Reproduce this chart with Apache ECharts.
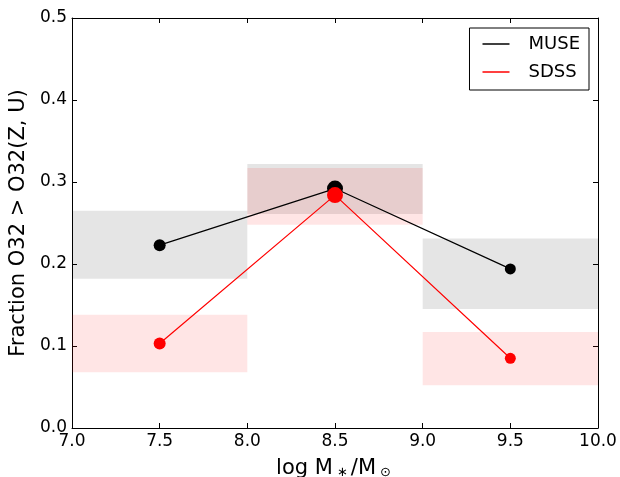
<!DOCTYPE html>
<html>
<head>
<meta charset="utf-8">
<script src="https://cdn.jsdelivr.net/npm/echarts@6/dist/echarts.min.js"></script>
<style>
  html, body { margin: 0; padding: 0; background: #fff; }
  #chart { width: 620px; height: 477px; }
</style>
</head>
<body>
<div id="chart"></div>
<script>
// mass bins (log M*/Msun)
const binLo = [7.0, 8.0, 9.0];
const binHi = [8.0, 9.0, 10.0];
const binMid = [7.5, 8.5, 9.5];

// fraction O32 > O32(Z,U)
const museFrac = [0.223, 0.292, 0.194];
const museLo = [0.182, 0.261, 0.145];
const museHi = [0.265, 0.322, 0.231];

const sdssFrac = [0.103, 0.284, 0.085];
const sdssLo = [0.068, 0.248, 0.052];
const sdssHi = [0.138, 0.317, 0.117];

const xTicks = [7.0, 7.5, 8.0, 8.5, 9.0, 9.5, 10.0];
const yTicks = [0.0, 0.1, 0.2, 0.3, 0.4, 0.5];

// marker diameters, px
const museSize = [12, 16, 11];
const sdssSize = [12, 16, 11];

const font = 'DejaVu Sans';

function bandSeries(name, lo, hi, color) {
    return {
        name: name + ' band',
        type: 'custom',
        silent: true,
        z: 1,
        data: binLo.map((b, i) => [b, binHi[i], lo[i], hi[i]]),
        renderItem: function (params, api) {
            const p0 = api.coord([api.value(0), api.value(3)]);
            const p1 = api.coord([api.value(1), api.value(2)]);
            return {
                type: 'rect',
                shape: { x: p0[0], y: p0[1], width: p1[0] - p0[0], height: p1[1] - p0[1] },
                style: { fill: color }
            };
        }
    };
}

const tickStyle = { show: true, inside: true, length: 5, lineStyle: { color: '#000', width: 1 } };

const option = {
    animation: false,
    backgroundColor: '#fff',
    textStyle: { fontFamily: font },
    grid: { left: 72, right: 22, top: 18, bottom: 49, outerBoundsMode: 'none', containLabel: false },
    legend: {
        orient: 'vertical',
        right: 31,
        top: 28,
        data: ['MUSE', 'SDSS'],
        icon: 'rect',
        itemWidth: 27,
        itemHeight: 1.5,
        itemGap: 8,
        padding: [6, 9, 8, 13],
        borderColor: '#000',
        borderWidth: 1,
        borderRadius: 0,
        textStyle: { fontFamily: font, fontSize: 18, color: '#000', lineHeight: 20, padding: [0, 0, 0, 14] }
    },
    xAxis: [
        {
            type: 'value',
            min: 7, max: 10, interval: 0.5,
            name: '{a|log M}{s|∗}{a|/M}{s|⊙}',
            nameLocation: 'middle',
            nameGap: 25,
            nameTextStyle: {
                rich: {
                    a: { fontFamily: font, fontSize: 21, color: '#000', verticalAlign: 'bottom', lineHeight: 26 },
                    s: { fontFamily: font, fontSize: 13, color: '#000', verticalAlign: 'bottom', lineHeight: 19, padding: [0, 3, 0, 4] }
                }
            },
            axisLine: { show: true, onZero: false, lineStyle: { color: '#000', width: 1 } },
            axisTick: tickStyle,
            splitLine: { show: false },
            axisLabel: {
                fontFamily: font, fontSize: 17, color: '#000', margin: 5,
                showMinLabel: true, showMaxLabel: true,
                formatter: v => v.toFixed(1)
            }
        },
        {
            type: 'value',
            position: 'top',
            min: 7, max: 10, interval: 0.5,
            axisLine: { show: true, onZero: false, lineStyle: { color: '#000', width: 1 } },
            axisTick: tickStyle,
            splitLine: { show: false },
            axisLabel: { show: false }
        }
    ],
    yAxis: [
        {
            type: 'value',
            min: 0, max: 0.5, interval: 0.1,
            name: 'Fraction O32 > O32(Z, U)',
            nameLocation: 'middle',
            nameGap: 38,
            nameTextStyle: { fontFamily: font, fontSize: 21, color: '#000' },
            axisLine: { show: true, onZero: false, lineStyle: { color: '#000', width: 1 } },
            axisTick: tickStyle,
            splitLine: { show: false },
            axisLabel: {
                fontFamily: font, fontSize: 17, color: '#000', margin: 5,
                showMinLabel: true, showMaxLabel: true,
                formatter: v => v.toFixed(1)
            }
        },
        {
            type: 'value',
            position: 'right',
            min: 0, max: 0.5, interval: 0.1,
            axisLine: { show: true, onZero: false, lineStyle: { color: '#000', width: 1 } },
            axisTick: tickStyle,
            splitLine: { show: false },
            axisLabel: { show: false }
        }
    ],
    series: [
        bandSeries('MUSE', museLo, museHi, 'rgba(0,0,0,0.1)'),
        bandSeries('SDSS', sdssLo, sdssHi, 'rgba(255,0,0,0.1)'),
        {
            name: 'MUSE',
            type: 'line',
            z: 3,
            data: binMid.map((x, i) => ({ value: [x, museFrac[i]], symbolSize: museSize[i] })),
            symbol: 'circle',
            color: '#000',
            lineStyle: { color: '#000', width: 1.2 },
            itemStyle: { color: '#000' }
        },
        {
            name: 'SDSS',
            type: 'line',
            z: 4,
            data: binMid.map((x, i) => ({ value: [x, sdssFrac[i]], symbolSize: sdssSize[i] })),
            symbol: 'circle',
            color: '#f00',
            lineStyle: { color: '#f00', width: 1.2 },
            itemStyle: { color: '#f00' }
        }
    ]
};

const chart = echarts.init(document.getElementById('chart'));
chart.setOption(option);
</script>
</body>
</html>
